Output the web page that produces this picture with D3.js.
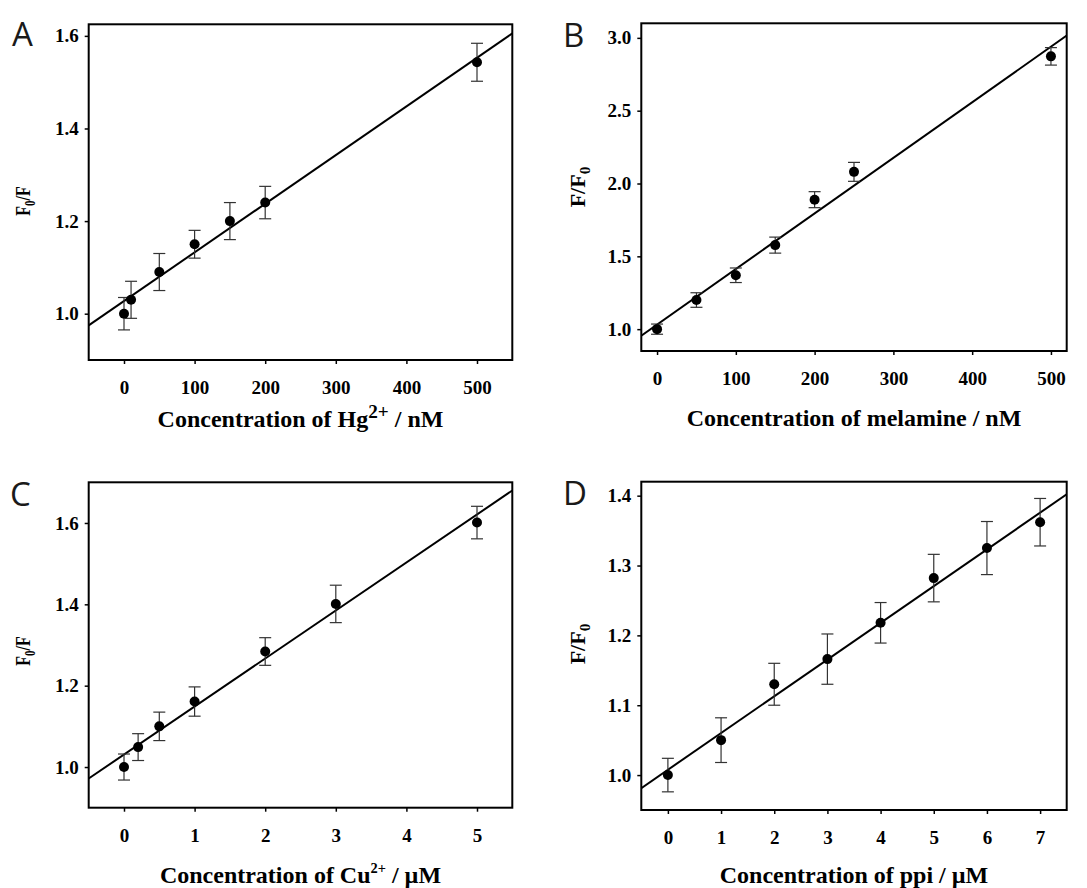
<!DOCTYPE html>
<html>
<head>
<meta charset="utf-8">
<script src="https://cdn.jsdelivr.net/npm/d3@7"></script>
<style>
  body { margin: 0; background: #fff; }
  svg { display: block; }
</style>
</head>
<body>
<svg width="1087" height="888"></svg>
<script>
// panel A: Hg2+
const hgConc = [0, 10, 50, 100, 150, 200, 500];
const hgRatio = [1.0, 1.03, 1.09, 1.15, 1.2, 1.24, 1.543];
const hgErr = [0.035, 0.04, 0.04, 0.03, 0.04, 0.035, 0.041];
const hgXTicks = [0, 100, 200, 300, 400, 500];
const hgYTicks = [1.0, 1.2, 1.4, 1.6];

// panel B: melamine
const melConc = [0, 50, 100, 150, 200, 250, 500];
const melRatio = [1.0, 1.2, 1.37, 1.577, 1.889, 2.08, 2.873];
const melErr = [0.035, 0.05, 0.05, 0.055, 0.055, 0.065, 0.06];
const melXTicks = [0, 100, 200, 300, 400, 500];
const melYTicks = [1.0, 1.5, 2.0, 2.5, 3.0];

// panel C: Cu2+
const cuConc = [0, 0.2, 0.5, 1, 2, 3, 5];
const cuRatio = [1.0, 1.049, 1.1, 1.161, 1.284, 1.401, 1.601];
const cuErr = [0.032, 0.033, 0.035, 0.036, 0.034, 0.046, 0.04];
const cuXTicks = [0, 1, 2, 3, 4, 5];
const cuYTicks = [1.0, 1.2, 1.4, 1.6];

// panel D: ppi
const ppiConc = [0, 1, 2, 3, 4, 5, 6, 7];
const ppiRatio = [1.0, 1.05, 1.13, 1.166, 1.218, 1.282, 1.325, 1.362];
const ppiErr = [0.024, 0.032, 0.03, 0.036, 0.029, 0.034, 0.038, 0.034];
const ppiXTicks = [0, 1, 2, 3, 4, 5, 6, 7];
const ppiYTicks = [1.0, 1.1, 1.2, 1.3, 1.4];

const panels = [
  {
    letter: "A", x: hgConc, y: hgRatio, err: hgErr,
    xDomain: [-50, 550], yDomain: [0.9, 1.625],
    xTicks: hgXTicks, yTicks: hgYTicks,
    box: { left: 88.7, top: 24.3, right: 512.3, bottom: 360 },
    letterPos: [12, 46],
    title: [["Concentration of Hg", ""], ["2+", "supBig"], [" / nM", ""]], titleY: 427,
    ylab: [["F", ""], ["0", "sub"], ["/F", ""]], ylabPos: [30, 201], ylabScale: 0.72
  },
  {
    letter: "B", x: melConc, y: melRatio, err: melErr,
    xDomain: [-20, 520], yDomain: [0.85, 3.1],
    xTicks: melXTicks, yTicks: melYTicks,
    box: { left: 641.3, top: 23.3, right: 1066.7, bottom: 351 },
    letterPos: [563, 47],
    title: [["Concentration of melamine / nM", ""]], titleY: 426,
    ylab: [["F/F", ""], ["0", "sub"]], ylabPos: [585, 187], ylabScale: 1
  },
  {
    letter: "C", x: cuConc, y: cuRatio, err: cuErr,
    xDomain: [-0.5, 5.5], yDomain: [0.9, 1.7],
    xTicks: cuXTicks, yTicks: cuYTicks,
    box: { left: 88.7, top: 482.3, right: 512.3, bottom: 807.7 },
    letterPos: [10, 506],
    title: [["Concentration of Cu", ""], ["2+", "sup"], [" / \u00b5M", ""]], titleY: 883,
    ylab: [["F", ""], ["0", "sub"], ["/F", ""]], ylabPos: [30, 651], ylabScale: 0.72
  },
  {
    letter: "D", x: ppiConc, y: ppiRatio, err: ppiErr,
    xDomain: [-0.5, 7.5], yDomain: [0.95, 1.42],
    xTicks: ppiXTicks, yTicks: ppiYTicks,
    box: { left: 641.3, top: 481.7, right: 1066.7, bottom: 810 },
    letterPos: [563, 505],
    title: [["Concentration of ppi / \u00b5M", ""]], titleY: 883,
    ylab: [["F/F", ""], ["0", "sub"]], ylabPos: [585, 644], ylabScale: 1
  }
];

const serif = "'Liberation Serif', 'Times New Roman', serif";
const svg = d3.select("svg");

// least-squares line through the points
function fit(xs, ys) {
  const mx = d3.mean(xs), my = d3.mean(ys);
  const sxy = d3.sum(xs, (x, i) => (x - mx) * (ys[i] - my));
  const sxx = d3.sum(xs, x => (x - mx) * (x - mx));
  const slope = sxy / sxx;
  return { slope, intercept: my - slope * mx };
}

const shifts = { sub: 0.22, sup: -0.4, supBig: -0.38 };
const sizes = { sub: 0.7, sup: 0.6, supBig: 0.8 };

function richText(sel, parts, size) {
  let prev = "";
  parts.forEach(([txt, kind]) => {
    const t = sel.append("tspan").text(txt);
    if (kind) {
      t.attr("font-size", size * sizes[kind]).attr("dy", size * shifts[kind]);
    } else if (prev) {
      t.attr("dy", -size * shifts[prev]);
    }
    prev = kind;
  });
}

panels.forEach((p, idx) => {
  const b = p.box;
  const x = d3.scaleLinear().domain(p.xDomain).range([b.left, b.right]);
  const y = d3.scaleLinear().domain(p.yDomain).range([b.bottom, b.top]);
  const g = svg.append("g");

  const clipId = "clip" + idx;
  g.append("clipPath").attr("id", clipId)
    .append("rect")
    .attr("x", b.left).attr("y", b.top)
    .attr("width", b.right - b.left).attr("height", b.bottom - b.top);

  // fit line
  const f = fit(p.x, p.y);
  const lineGen = d3.line().x(d => x(d)).y(d => y(f.intercept + f.slope * d));
  g.append("path")
    .attr("d", lineGen(p.xDomain))
    .attr("clip-path", `url(#${clipId})`)
    .attr("fill", "none")
    .attr("stroke", "#000")
    .attr("stroke-width", 2);

  // error bars
  const bars = g.append("g").attr("stroke", "#333").attr("stroke-width", 1.2);
  p.x.forEach((cx, i) => {
    const px = x(cx);
    const yt = y(p.y[i] + p.err[i]);
    const yb = y(p.y[i] - p.err[i]);
    bars.append("line").attr("x1", px).attr("x2", px).attr("y1", yt).attr("y2", yb);
    bars.append("line").attr("x1", px - 6).attr("x2", px + 6).attr("y1", yt).attr("y2", yt);
    bars.append("line").attr("x1", px - 6).attr("x2", px + 6).attr("y1", yb).attr("y2", yb);
  });

  // points
  g.selectAll("circle.pt")
    .data(p.x)
    .join("circle")
    .attr("class", "pt")
    .attr("cx", d => x(d))
    .attr("cy", (d, i) => y(p.y[i]))
    .attr("r", 5)
    .attr("fill", "#000");

  // axes
  const xAxis = g.append("g")
    .attr("transform", `translate(0,${b.bottom})`)
    .call(d3.axisBottom(x).tickValues(p.xTicks).tickFormat(d3.format("d"))
      .tickSize(4).tickSizeOuter(0).tickPadding(17));
  const yAxis = g.append("g")
    .attr("transform", `translate(${b.left},0)`)
    .call(d3.axisLeft(y).tickValues(p.yTicks).tickFormat(d3.format(".1f"))
      .tickSize(4).tickSizeOuter(0).tickPadding(6));
  [xAxis, yAxis].forEach(a => {
    a.select(".domain").remove();
    a.selectAll(".tick line").attr("stroke", "#000").attr("stroke-width", 1.5);
    a.selectAll(".tick text")
      .attr("fill", "#000")
      .attr("font-family", serif)
      .attr("font-weight", "bold")
      .attr("font-size", 19);
  });

  // frame
  g.append("rect")
    .attr("x", b.left).attr("y", b.top)
    .attr("width", b.right - b.left).attr("height", b.bottom - b.top)
    .attr("fill", "none")
    .attr("stroke", "#000")
    .attr("stroke-width", 2);

  // x title
  const tt = g.append("text")
    .attr("x", (b.left + b.right) / 2)
    .attr("y", p.titleY)
    .attr("text-anchor", "middle")
    .attr("font-family", serif)
    .attr("font-weight", "bold")
    .attr("font-size", 24);
  richText(tt, p.title, 24);

  // y title
  const yl = g.append("text")
    .attr("transform", `translate(${p.ylabPos[0]},${p.ylabPos[1]}) rotate(-90) scale(${p.ylabScale},1)`)
    .attr("text-anchor", "middle")
    .attr("font-family", serif)
    .attr("font-weight", "bold")
    .attr("font-size", 22);
  richText(yl, p.ylab, 22);

  // panel letter
  g.append("text")
    .attr("x", p.letterPos[0])
    .attr("y", p.letterPos[1])
    .attr("font-family", "'Open Sans', sans-serif")
    .attr("font-size", 33)
    .attr("fill", "#1a1a1a")
    .text(p.letter);
});
</script>
</body>
</html>
